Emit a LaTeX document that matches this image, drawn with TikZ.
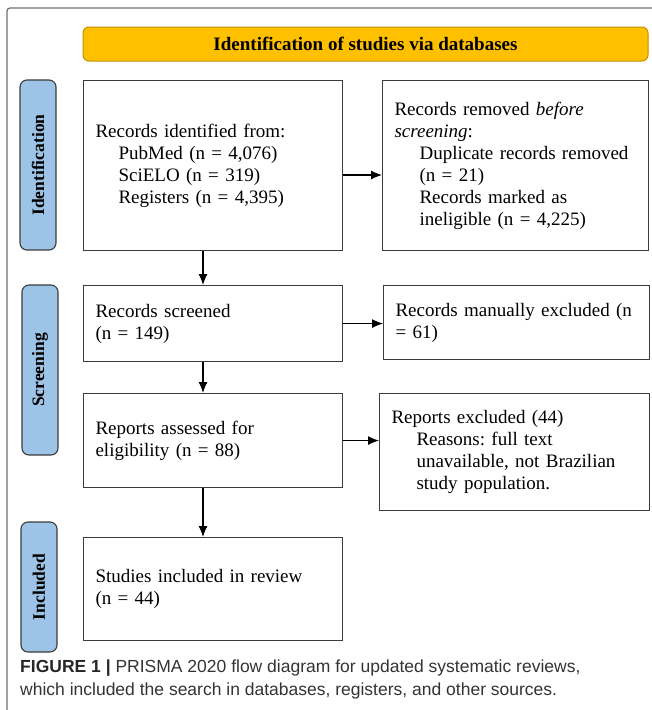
\documentclass[tikz,border=0pt]{standalone}
\usepackage{fontspec}
\setmainfont{Liberation Serif}
\newfontfamily\capfont{Liberation Sans}
\usetikzlibrary{arrows.meta}
\definecolor{bannerfill}{HTML}{FFC000}
\definecolor{bannerline}{HTML}{BF9000}
\definecolor{sidefill}{HTML}{9DC3E6}
\definecolor{boxline}{HTML}{3C3C3C}
\definecolor{captext}{HTML}{333333}
\definecolor{framecol}{HTML}{6F6F6F}
\frenchspacing
\begin{document}
\begin{tikzpicture}[x=1pt,y=-1pt,
  flowbox/.style={draw=boxline, line width=1.1pt, rectangle, anchor=north west,
    align=left, inner xsep=12pt, inner ysep=0pt,
    font=\fontsize{19}{22}\selectfont, text=black},
  sidelabel/.style={draw=boxline, fill=sidefill, line width=1.1pt, rounded corners=7pt,
    rotate=90, inner sep=0pt, minimum height=36pt,
    font=\bfseries\fontsize{17.5}{20}\selectfont},
  flowarrow/.style={-{Latex[length=11pt,width=9pt]}, line width=1.1pt, black}]
\useasboundingbox (0,0) rectangle (652,710);
% outer frame
\draw[framecol, line width=1.2pt, rounded corners=3pt] (7,710) -- (7,8) -- (652,8);
% banner
\node[draw=bannerline, fill=bannerfill, line width=1pt, rounded corners=6pt,
  minimum width=565pt, minimum height=34pt, inner sep=0pt,
  font=\bfseries\fontsize{19}{22}\selectfont] (banner) at (365.5,44)
  {Identification of studies via databases};
% side labels
\node[sidelabel, minimum width=170pt] (lid) at (38,165) {Identification};
\node[sidelabel, minimum width=170pt] (lsc) at (40,370) {Screening};
\node[sidelabel, minimum width=130pt] (lin) at (39,587) {Included};
% boxes
\node[flowbox, text width=235pt, minimum height=170pt] (b1) at (83,80)
  {Records identified from:\\
   \hspace*{23pt}PubMed (n = 4,076)\\
   \hspace*{23pt}SciELO (n = 319)\\
   \hspace*{23pt}Registers (n = 4,395)};
\node[flowbox, text width=242pt, minimum height=170pt] (b2) at (382,80)
  {Records removed \textit{before}\\
   \textit{screening}:\\
   \hspace*{25pt}Duplicate records removed\\
   \hspace*{25pt}(n = 21)\\
   \hspace*{25pt}Records marked as\\
   \hspace*{25pt}ineligible (n = 4,225)};
\node[flowbox, text width=235pt, minimum height=76pt] (b3) at (83,285)
  {Records screened\\ (n = 149)};
\node[flowbox, text width=242pt, minimum height=74pt] (b3r) at (383,285)
  {Records manually excluded (n\\ = 61)};
\node[flowbox, text width=235pt, minimum height=94pt] (b4) at (83,393)
  {Reports assessed for\\ eligibility (n = 88)};
\node[flowbox, text width=246pt, minimum height=117pt] (b4r) at (379,393)
  {Reports excluded (44)\\
   \hspace*{25pt}Reasons: full text\\
   \hspace*{25pt}unavailable, not Brazilian\\
   \hspace*{25pt}study population.};
\node[flowbox, text width=235pt, minimum height=103pt] (b5) at (83,537)
  {Studies included in review\\ (n = 44)};
% connectors
\coordinate (ax) at (203,0);
\coordinate (ay) at (0,175);
\draw[flowarrow] (b1.south -| ax) -- (b3.north -| ax);
\draw[flowarrow] (b3.south -| ax) -- (b4.north -| ax);
\draw[flowarrow] (b4.south -| ax) -- (b5.north -| ax);
\draw[flowarrow] (b1.east |- ay) -- (b2.west |- ay);
\draw[flowarrow] (b3.east) -- (b3r.west |- b3.east);
\draw[flowarrow] (b4.east) -- (b4r.west |- b4.east);
% caption
\node[anchor=north west, align=left, inner sep=0pt, text=captext,
  font=\capfont\fontsize{17.5}{23}\selectfont] (cap) at (20,660)
  {\textbf{\color{black!85}FIGURE 1 |} PRISMA 2020 flow diagram for updated systematic reviews,\\
   which included the search in databases, registers, and other sources.};
\end{tikzpicture}
\end{document}
